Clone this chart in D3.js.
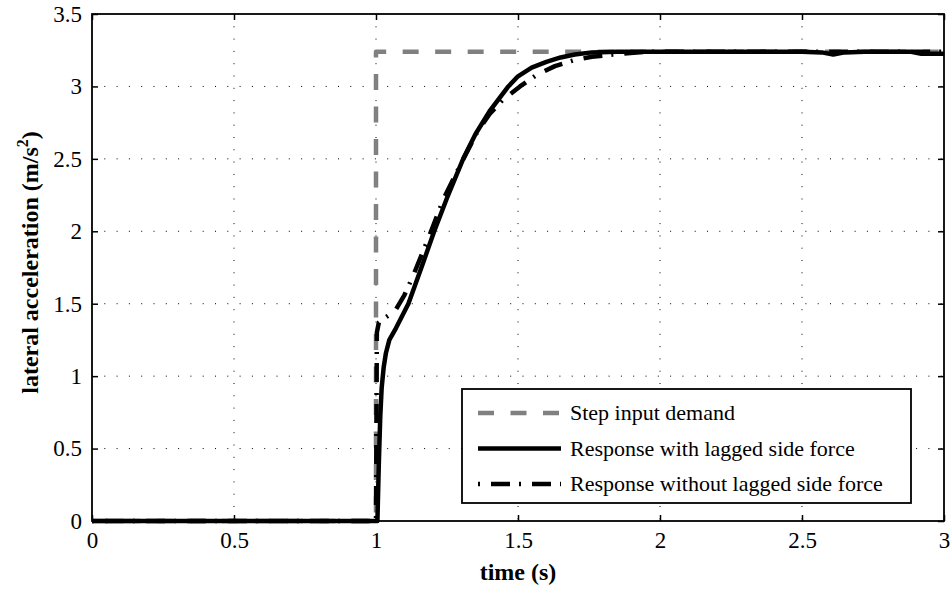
<!DOCTYPE html>
<html>
<head>
<meta charset="utf-8">
<script src="https://cdn.jsdelivr.net/npm/d3@7"></script>
<style>
body { margin: 0; background: #fff; }
svg { display: block; font-family: "Liberation Serif", "Times New Roman", serif; }
</style>
</head>
<body>
<div id="chart"></div>
<script>
// step demand
var stepTime = [0, 1, 1, 3];
var stepAcc = [0, 0, 3.24, 3.24];

// response with lagged side force
var lagTime = [0, 1.005, 1.010, 1.015, 1.020, 1.027, 1.035, 1.047, 1.07, 1.114, 1.16, 1.205, 1.25, 1.307, 1.35, 1.40, 1.466, 1.50, 1.548, 1.60, 1.65, 1.70, 1.76, 1.85, 2.0, 2.5, 2.57, 2.61, 2.65, 2.72, 2.88, 2.92, 3.0];
var lagAcc = [0, 0, 0.40, 0.72, 0.92, 1.06, 1.16, 1.25, 1.33, 1.50, 1.75, 2.00, 2.23, 2.50, 2.67, 2.83, 3.00, 3.07, 3.13, 3.17, 3.20, 3.22, 3.235, 3.24, 3.24, 3.24, 3.235, 3.22, 3.235, 3.24, 3.24, 3.225, 3.225];

// response without lagged side force
var noLagTime = [0, 1.0, 1.003, 1.01, 1.03, 1.067, 1.10, 1.13, 1.184, 1.237, 1.30, 1.355, 1.40, 1.448, 1.507, 1.566, 1.63, 1.695, 1.76, 1.835, 1.95, 2.5, 3.0];
var noLagAcc = [0, 0, 1.30, 1.37, 1.40, 1.45, 1.56, 1.69, 1.95, 2.22, 2.47, 2.68, 2.81, 2.91, 3.00, 3.08, 3.14, 3.18, 3.205, 3.22, 3.24, 3.24, 3.24];

var xTicks = [0, 0.5, 1, 1.5, 2, 2.5, 3];
var yTicks = [0, 0.5, 1, 1.5, 2, 2.5, 3, 3.5];
var legendLabels = ["Step input demand", "Response with lagged side force", "Response without lagged side force"];

var width = 952, height = 592;
var margin = {top: 14, right: 8, bottom: 71, left: 92};
var w = width - margin.left - margin.right;
var h = height - margin.top - margin.bottom;

var svg = d3.select("#chart").append("svg")
	.attr("width", width)
	.attr("height", height);
var g = svg.append("g").attr("transform", "translate(" + margin.left + "," + margin.top + ")");

var x = d3.scaleLinear().domain([0, 3]).range([0, w]);
var y = d3.scaleLinear().domain([0, 3.5]).range([h, 0]);

// dotted grid
g.append("g").selectAll("line").data(xTicks.slice(1, -1)).enter().append("line")
	.attr("x1", function(d){ return x(d); }).attr("x2", function(d){ return x(d); })
	.attr("y1", 0).attr("y2", h)
	.attr("stroke", "#000").attr("stroke-width", 1).attr("stroke-dasharray", "1,11.3");
g.append("g").selectAll("line").data(yTicks.slice(1, -1)).enter().append("line")
	.attr("y1", function(d){ return y(d); }).attr("y2", function(d){ return y(d); })
	.attr("x1", 0).attr("x2", w)
	.attr("stroke", "#000").attr("stroke-width", 1).attr("stroke-dasharray", "1,11.3");

// axes with inward ticks on all sides
var tickFont = "23px";
var xAxis = g.append("g").attr("transform", "translate(0," + h + ")")
	.call(d3.axisBottom(x).tickValues(xTicks).tickSize(-6).tickPadding(11).tickFormat(d3.format("")));
var yAxis = g.append("g")
	.call(d3.axisLeft(y).tickValues(yTicks).tickSize(-6).tickPadding(10).tickFormat(d3.format("")));
g.append("g").call(d3.axisTop(x).tickValues(xTicks).tickSize(-6).tickFormat(""));
g.append("g").attr("transform", "translate(" + w + ",0)")
	.call(d3.axisRight(y).tickValues(yTicks).tickSize(-6).tickFormat(""));
g.selectAll(".domain").remove();
g.selectAll(".tick line").attr("stroke", "#000").attr("stroke-width", 1.5);
g.selectAll(".tick text").attr("font-size", tickFont).attr("font-family", "Liberation Serif").attr("fill", "#000");

g.append("rect").attr("width", w).attr("height", h)
	.attr("fill", "none").attr("stroke", "#000").attr("stroke-width", 1.8);

// curves
function makeLine(ts, vs){
	return d3.line().x(function(d, i){ return x(ts[i]); }).y(function(d){ return y(d); })(vs);
}
var styles = [
	{t: stepTime, v: stepAcc, color: "#808080", width: 4.5, dash: "16,16.5"},
	{t: lagTime, v: lagAcc, color: "#000", width: 4.5, dash: null},
	{t: noLagTime, v: noLagAcc, color: "#000", width: 4.5, dash: "2,11,19,9"}
];
styles.forEach(function(s){
	g.append("path").attr("d", makeLine(s.t, s.v))
		.attr("fill", "none").attr("stroke", s.color).attr("stroke-width", s.width)
		.attr("stroke-dasharray", s.dash).attr("stroke-linejoin", "round");
});

// legend
var lx = 462 - margin.left, ly = 389 - margin.top;
var legend = g.append("g").attr("transform", "translate(" + lx + "," + ly + ")");
legend.append("rect").attr("width", 449).attr("height", 114)
	.attr("fill", "#fff").attr("stroke", "#000").attr("stroke-width", 1.8);
styles.forEach(function(s, i){
	var yy = 24 + i * 35.5;
	legend.append("line").attr("x1", 16).attr("x2", 99).attr("y1", yy).attr("y2", yy)
		.attr("stroke", s.color).attr("stroke-width", s.width).attr("stroke-dasharray", s.dash);
	legend.append("text").attr("x", 108).attr("y", yy + 7)
		.attr("font-size", "22px").attr("fill", "#000").text(legendLabels[i]);
});

// axis titles
svg.append("text").attr("x", margin.left + w / 2).attr("y", 580)
	.attr("text-anchor", "middle").attr("font-size", "24px").attr("font-weight", "bold")
	.text("time (s)");
var yt = svg.append("text").attr("transform", "translate(38," + (margin.top + h / 2 - 5) + ") rotate(-90)")
	.attr("text-anchor", "middle").attr("font-size", "24px").attr("font-weight", "bold");
yt.append("tspan").text("lateral acceleration (m/s");
yt.append("tspan").attr("dy", -10).attr("font-size", "16px").text("2");
yt.append("tspan").attr("dy", 10).text(")");
</script>
</body>
</html>
